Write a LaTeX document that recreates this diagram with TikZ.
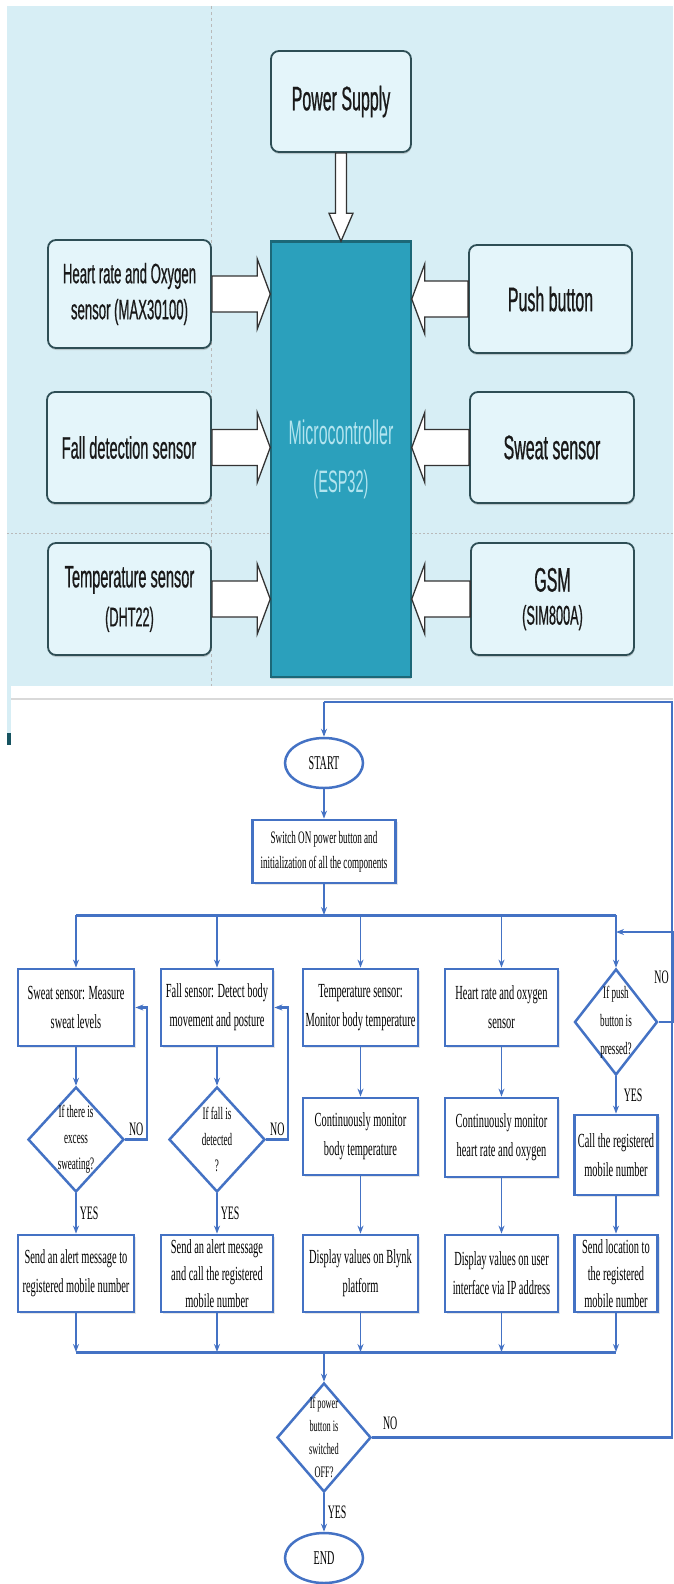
\documentclass[tikz,border=0pt]{standalone}
\usepackage{fontspec}
\setmainfont{Liberation Serif}[FakeStretch=0.52]
\newfontfamily\blockfont{Liberation Sans}[FakeStretch=0.47,FakeBold=0.6]
\newfontfamily\mcfont{Liberation Sans}[FakeStretch=0.47]
\usetikzlibrary{shapes,positioning,arrows.meta,calc,shadows}

\definecolor{bgblue}{HTML}{D7EEF5}
\definecolor{boxfill}{HTML}{E4F5FA}
\definecolor{boxline}{HTML}{2E4E55}
\definecolor{mcfill}{HTML}{2BA0BC}
\definecolor{mcline}{HTML}{1C6878}
\definecolor{mctext}{HTML}{B2E4EF}
\definecolor{flow}{HTML}{4472C4}

\begin{document}
\begin{tikzpicture}[x=1pt, y=-1pt,
  >={Stealth[length=8pt,width=6pt]},
  blk/.style={draw=boxline, fill=boxfill, rounded corners=8pt, line width=1.8pt,
    minimum width=163pt, minimum height=108pt, align=center, text=black!90,
    font=\blockfont\fontsize{28}{36}\selectfont,
    drop shadow={opacity=0.35, shadow xshift=0.5pt, shadow yshift=-2pt}},
  big/.style={font=\blockfont\fontsize{34}{37}\selectfont},
  blockarrow/.style={draw=black!80, fill=white, line width=1.3pt},
  box/.style={draw=flow, fill=white, line width=2.8pt, minimum height=77pt,
    align=center, inner sep=2pt, font=\fontsize{20}{29}\selectfont,
    drop shadow={opacity=0.2, shadow xshift=2pt, shadow yshift=-2pt}},
  decision/.style={draw=flow, fill=white, diamond, line width=2.5pt, inner sep=0pt},
  dtext/.style={align=center, font=\fontsize{17.5}{26}\selectfont},
  term/.style={draw=flow, ellipse, line width=2.5pt, minimum width=78pt,
    minimum height=50pt, font=\fontsize{19.5}{22}\selectfont},
  flowline/.style={draw=flow, line width=1.6pt},
  bus/.style={draw=flow, line width=3pt},
  loopline/.style={draw=flow, line width=2.2pt},
  lbl/.style={font=\fontsize{19}{22}\selectfont, inner sep=3pt},
  ]
  \useasboundingbox (0,0) rectangle (673,1584);

  % block diagram
  \fill[bgblue] (7,6) rectangle (673,686);
  \draw[gray!55, dash pattern=on 3pt off 3pt, line width=0.6pt] (211,6) -- (211,686);
  \draw[gray!55, dash pattern=on 2pt off 2pt, line width=0.6pt] (7,533) -- (673,533);
  \fill[bgblue] (7,686) rectangle (11,745);
  \fill[mcline!80!black] (7,733) rectangle (11,745);

  \node[blk, big, minimum width=140pt, minimum height=101pt] (pw) at (341,101.5) {Power Supply};
  \node[draw=mcline, fill=mcfill, line width=1.5pt, minimum width=140pt, minimum height=435pt,
    align=center, text=mctext, font=\mcfont\fontsize{34}{48}\selectfont,
    drop shadow={opacity=0.35, shadow xshift=0pt, shadow yshift=-2pt}] (mc) at (341,459.5)
    {Microcontroller\\{\fontsize{31}{48}\selectfont(ESP32)}};
  \draw[mcline, line width=3pt] (mc.north west) -- (mc.north east);

  \node[blk] (hr) at (129.5,294) {Heart rate and Oxygen\\sensor (MAX30100)};
  \node[blk, minimum width=164pt, minimum height=111pt, font=\blockfont\fontsize{31}{37}\selectfont]
    (fall) at (129,447.5) {Fall detection sensor};
  \node[blk, minimum height=112pt, font=\blockfont\fontsize{27}{39}\selectfont] (temp) at (129.5,599)
    {{\fontsize{31}{39}\selectfont Temperature sensor}\\(DHT22)};
  \node[blk, big] (push) at (550.5,299) {Push button};
  \node[blk, big, minimum width=164pt, minimum height=111pt] (sweat) at (552,447.5) {Sweat sensor};
  \node[blk, minimum height=112pt, font=\blockfont\fontsize{27}{33}\selectfont] (gsm) at (552.5,599)
    {{\fontsize{34}{33}\selectfont GSM}\\(SIM800A)};

  \draw[blockarrow] let \p1=(pw.south), \p2=(mc.north) in
    (\x1-5.5pt,\y1) -- (\x1-5.5pt,\y2+28pt) -- (\x1-12pt,\y2+28pt) -- (\x1,\y2)
    -- (\x1+12pt,\y2+28pt) -- (\x1+5.5pt,\y2+28pt) -- (\x1+5.5pt,\y1) -- cycle;
  \foreach \s in {hr,fall,temp}
    \draw[blockarrow] let \p1=(\s.east), \p2=(mc.west) in
      (\x1,\y1+18pt) -- (\x2-13pt,\y1+18pt) -- (\x2-13pt,\y1+35pt) -- (\x2,\y1)
      -- (\x2-13pt,\y1-35pt) -- (\x2-13pt,\y1-18pt) -- (\x1,\y1-18pt) -- cycle;
  \foreach \s in {push,sweat,gsm}
    \draw[blockarrow] let \p1=(\s.west), \p2=(mc.east) in
      (\x1,\y1+18pt) -- (\x2+13pt,\y1+18pt) -- (\x2+13pt,\y1+35pt) -- (\x2,\y1)
      -- (\x2+13pt,\y1-35pt) -- (\x2+13pt,\y1-18pt) -- (\x1,\y1-18pt) -- cycle;

  % flow chart
  \draw[gray!30, line width=1.5pt] (11,699) -- (673,699);

  \node[term] (start) at (324,763) {START};
  \node[box, minimum width=143pt, minimum height=63pt, font=\fontsize{17.5}{25}\selectfont] (init) at (324,851.5)
    {Switch ON power button and\\initialization of all the components};

  \node[box, minimum width=116pt] (sw1) at (76,1007.5) {Sweat sensor: Measure\\sweat levels};
  \node[box, minimum width=112pt] (fa1) at (217,1007.5) {Fall sensor: Detect body\\movement and posture};
  \node[box, minimum width=115pt] (te1) at (360.5,1007.5) {Temperature sensor:\\Monitor body temperature};
  \node[box, minimum width=113pt] (hr1) at (501.5,1007.5) {Heart rate and oxygen\\sensor};
  \node[decision, minimum width=83pt, minimum height=106pt,
    label={[dtext, font=\fontsize{17.5}{28}\selectfont]center:{If push\\button is\\pressed?}}] (pb) at (616,1022) {};

  \node[decision, minimum width=96pt, minimum height=105pt,
    label={[dtext]center:{If there is\\excess\\sweating?}}] (sw2) at (76,1139.5) {};
  \node[decision, minimum width=96pt, minimum height=105pt,
    label={[dtext]center:{If fall is\\detected\\?}}] (fa2) at (217,1139.5) {};
  \node[box, minimum width=115pt] (te2) at (360.5,1136.5) {Continuously monitor\\body temperature};
  \node[box, minimum width=113pt, minimum height=79pt] (hr2) at (501.5,1137.5) {Continuously monitor\\heart rate and oxygen};
  \node[box, minimum width=83pt, minimum height=80pt] (pb2) at (616,1155) {Call the registered\\mobile number};

  \node[box, minimum width=116pt] (sw3) at (76,1273.5) {Send an alert message to\\registered mobile number};
  \node[box, minimum width=112pt, font=\fontsize{20}{27}\selectfont] (fa3) at (217,1273.5)
    {Send an alert message\\and call the registered\\mobile number};
  \node[box, minimum width=115pt] (te3) at (360.5,1273.5) {Display values on Blynk\\platform};
  \node[box, minimum width=113pt] (hr3) at (501.5,1273.5) {Display values on user\\interface via IP address};
  \node[box, minimum width=83pt, font=\fontsize{20}{27}\selectfont] (pb3) at (616,1273.5)
    {Send location to\\the registered\\mobile number};

  \node[decision, minimum width=94pt, minimum height=109pt,
    label={[dtext, font=\fontsize{16}{23}\selectfont]center:{If power\\button is\\switched\\OFF?}}] (off) at (324,1437.5) {};
  \node[term] (stop) at (324,1558) {END};

  \coordinate (looptl) at (324,702);
  \coordinate (looptr) at (672,702);
  \coordinate (busa) at (76,915);
  \coordinate (busb) at (616,915);
  \coordinate (busc) at (76,1352);
  \coordinate (busd) at (616,1352);
  \coordinate (pbin) at (616,932);

  \draw[loopline] (off.east) -- node[lbl, above, pos=0.06, yshift=4pt] {NO} (off.east -| looptr)
    -- (looptr) -- (looptl);
  \draw[flowline,->] (looptl) -- (start);
  \draw[flowline,->] (start) -- (init);
  \draw[flowline,->] (init) -- (init |- busa);
  \draw[bus] (busa) -- (busb);
  \foreach \n in {sw1,fa1,te1,hr1,pb}
    \draw[flowline,->] (\n |- busa) -- (\n);

  \foreach \a/\b in {sw1/sw2,fa1/fa2,te1/te2,te2/te3,hr1/hr2,hr2/hr3,pb2/pb3}
    \draw[flowline,->] (\a) -- (\b);
  \draw[flowline,->] (sw2) -- node[lbl, right] {YES} (sw3);
  \draw[flowline,->] (fa2) -- node[lbl, right] {YES} (fa3);
  \draw[flowline,->] (pb) -- node[lbl, right, xshift=4pt] {YES} (pb2);

  \draw[loopline,->] (sw2.east) -- node[lbl, above] {NO} ++(22,0) |- (sw1.east);
  \draw[loopline,->] (fa2.east) -- node[lbl, above] {NO} ++(22,0) |- (fa1.east);
  \draw[loopline,->] (pb.east) -- ++(14,0) |- node[lbl, left, pos=0.25] {NO} (pbin);

  \draw[bus] (busc) -- (busd);
  \foreach \n in {sw3,fa3,te3,hr3,pb3}
    \draw[flowline,->] (\n) -- (\n |- busc);
  \draw[flowline,->] (busc -| off) -- (off);
  \draw[flowline,->] (off) -- node[lbl, right] {YES} (stop);
\end{tikzpicture}
\end{document}
